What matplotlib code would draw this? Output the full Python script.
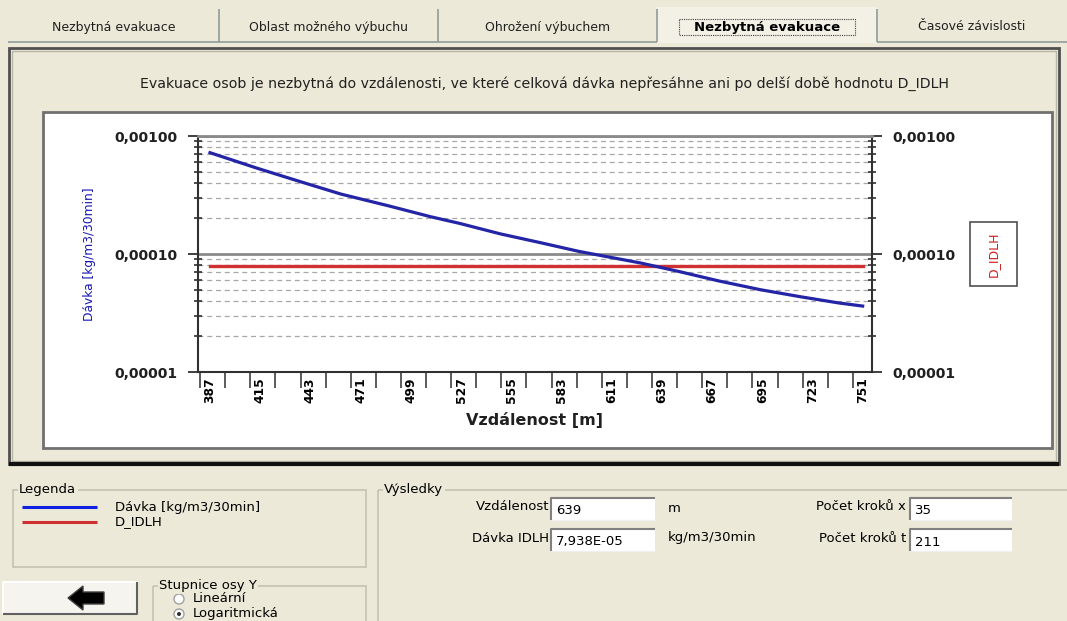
import matplotlib
matplotlib.use("Agg")
import matplotlib.pyplot as plt
from matplotlib.patches import Rectangle, Circle, Polygon
from matplotlib.ticker import LogLocator, FuncFormatter, FixedLocator, NullFormatter

plt.rcParams['font.family'] = ['DejaVu Sans']

# data
distance = [387, 413, 437, 460, 487, 510, 526, 549, 571, 593, 627, 649, 671, 694, 716, 738, 751]
dose = [7.22e-4, 5.35e-4, 4.12e-4, 3.22e-4, 2.55e-4, 2.07e-4, 1.82e-4, 1.48e-4, 1.25e-4,
        1.05e-4, 8.4e-5, 7.08e-5, 5.9e-5, 4.98e-5, 4.35e-5, 3.84e-5, 3.62e-5]
idlh = 7.938e-5
x_labels = list(range(387, 752, 28))
x_minor = [381.5 + 14 * k for k in range(27)]

tabs = ["Nezbytná evakuace", "Oblast možného výbuchu", "Ohrožení výbuchem",
        "Nezbytná evakuace", "Časové závislosti"]
active_tab = 3
res_distance = "639"
res_idlh = "7,938E-05"
steps_x = "35"
steps_t = "211"

W, H = 1067, 621
BG = '#ECE9D8'
fig = plt.figure(figsize=(W / 100, H / 100), dpi=100, facecolor=BG)

# window furniture drawn in pixel coordinates
ui = fig.add_axes([0, 0, 1, 1])
ui.set_xlim(0, W)
ui.set_ylim(H, 0)
ui.axis('off')
ui.set_facecolor(BG)


def rect(x0, y0, x1, y1, **kw):
    ui.add_patch(Rectangle((x0, y0), x1 - x0, y1 - y0, **kw))


def line(xs, ys, **kw):
    ui.plot(xs, ys, solid_capstyle='butt', **kw)


def group(x0, y0, x1, y1, title):
    rect(x0, y0, x1, y1, fill=False, edgecolor='#c5c2b2', lw=1.2)
    ui.text(x0 + 6, y0, title, fontsize=9.5, va='center', ha='left',
            bbox=dict(facecolor=BG, edgecolor='none', pad=1))


def field(x0, y0, x1, y1, value):
    rect(x0, y0, x1, y1, facecolor='white', edgecolor='none')
    line([x0, x0, x1], [y1, y0, y0], color='#808080', lw=1.5)
    line([x0 + 1, x1], [y1, y1], color='#f0f0f0', lw=1)
    ui.text(x0 + 5, (y0 + y1) / 2 + 2, value, fontsize=9.5, va='center', ha='left')


# tabs
tab_edges = [8, 219, 438, 657, 877, 1067]
for i, name in enumerate(tabs):
    x0, x1 = tab_edges[i], tab_edges[i + 1]
    cx = (x0 + x1) / 2
    if i == active_tab:
        rect(x0, 7, x1, 43, facecolor='#F3F1E6', edgecolor='none')
        ui.text(cx, 27, name, fontsize=9.5, fontweight='bold', ha='center', va='center')
        rect(cx - 88, 19, cx + 88, 35, fill=False, edgecolor='#404040', lw=0.8, ls=(0, (1, 1)))
    else:
        line([x0, x1], [42, 42], color='#919B9C', lw=1.2)
        ui.text(cx, 27, name, fontsize=9, ha='center', va='center', color='#202020')
for xe in tab_edges[1:-1]:
    line([xe, xe], [9, 42], color='#919B9C', lw=1.2)

# main frame
rect(9, 48, 1059, 464, fill=False, edgecolor='#505050', lw=2)
rect(12, 51, 1056, 461, fill=False, edgecolor='#b8b5a6', lw=1)
line([9, 1059], [464, 464], color='#101010', lw=3)
rect(43, 112, 1052, 448, facecolor='white', edgecolor='#707070', lw=2)

ui.text(545, 84, "Evakuace osob je nezbytná do vzdálenosti, ve které celková dávka "
        "nepřesáhne ani po delší době hodnotu D_IDLH",
        fontsize=10.2, ha='center', va='center', color='#202020')

# right series title box
rect(970, 222, 1017, 286, facecolor='white', edgecolor='#505050', lw=1.2)
ui.text(993.5, 254, "D_IDLH", rotation=90, color='#cc2020', fontsize=9,
        ha='center', va='center')

ui.text(90, 254, "Dávka [kg/m3/30min]", rotation=90, color='#1818b0', fontsize=8.8,
        ha='center', va='center')

# bottom panels
group(13, 490, 366, 567, "Legenda")
line([22, 97], [507, 507], color='#1020e0', lw=2.2)
line([22, 97], [522, 522], color='#d03030', lw=2.2)
ui.text(115, 507, "Dávka [kg/m3/30min]", fontsize=9.5, va='center')
ui.text(115, 522, "D_IDLH", fontsize=9.5, va='center')

group(153, 586, 366, 640, "Stupnice osy Y")
ui.add_patch(Circle((179, 599), 5, facecolor='white', edgecolor='#a0a0a0', lw=1))
ui.add_patch(Circle((179, 614), 5, facecolor='white', edgecolor='#a0a0a0', lw=1))
ui.add_patch(Circle((179, 614), 2, facecolor='#303030', edgecolor='none'))
ui.text(193, 599, "Lineární", fontsize=9.5, va='center')
ui.text(193, 614, "Logaritmická", fontsize=9.5, va='center')

rect(3, 582, 137, 614, facecolor='#F5F4EF', edgecolor='none')
line([3, 3, 137], [614, 582, 582], color='#ffffff', lw=1.5)
line([3, 137, 137], [614, 614, 582], color='#606060', lw=1.5)
ui.add_patch(Polygon([[68, 598], [83, 586], [83, 592], [104, 592], [104, 604], [83, 604], [83, 610]],
                     closed=True, facecolor='black', edgecolor='#404040', lw=1))

group(378, 490, 1080, 660, "Výsledky")
ui.text(549, 507, "Vzdálenost", fontsize=9.5, ha='right', va='center')
field(551, 498, 655, 520, res_distance)
ui.text(668, 508, "m", fontsize=9.5, va='center')
ui.text(549, 538, "Dávka IDLH", fontsize=9.5, ha='right', va='center')
field(551, 529, 655, 551, res_idlh)
ui.text(668, 538, "kg/m3/30min", fontsize=9.5, va='center')
ui.text(906, 507, "Počet kroků x", fontsize=9.5, ha='right', va='center')
field(910, 498, 1012, 520, steps_x)
ui.text(906, 538, "Počet kroků t", fontsize=9.5, ha='right', va='center')
field(910, 529, 1012, 551, steps_t)

# the chart
ax = fig.add_axes([198 / W, 1 - 372 / H, 674 / W, 236 / H])
ax.set_facecolor('white')
ax.plot(distance, dose, color='#2424a6', lw=2.3, zorder=4)
ax.plot([distance[0], distance[-1]], [idlh, idlh], color='#d03030', lw=2.4, zorder=3)

ax.set_yscale('log')
ax.set_ylim(1e-5, 1e-3)
ax.set_xlim(380.3, 756.2)

ax.yaxis.set_major_locator(LogLocator(base=10))
ax.yaxis.set_minor_locator(LogLocator(base=10, subs=range(2, 10)))
ax.yaxis.set_minor_formatter(NullFormatter())
ax.yaxis.set_major_formatter(FuncFormatter(lambda v, _: f"{v:.5f}".replace('.', ',')))
ax.yaxis.grid(True, which='minor', color='#a8a8a8', lw=0.9, ls=(0, (4, 3)))
ax.yaxis.grid(True, which='major', color='#8a8a8a', lw=2)
ax.tick_params(axis='y', which='major', left=True, right=True, labelright=True,
               direction='out', length=7, width=1.3, color='#303030', pad=8, labelsize=10)
ax.tick_params(axis='y', which='minor', left=True, right=True,
               direction='inout', length=6, width=1.2, color='#303030')
for t in ax.get_yticklabels():
    t.set_fontweight('bold')
    t.set_color('#202020')

ax.xaxis.set_major_locator(FixedLocator(x_labels))
ax.xaxis.set_minor_locator(FixedLocator(x_minor))
ax.tick_params(axis='x', which='major', length=0, pad=4, labelsize=8.8, labelrotation=90)
ax.tick_params(axis='x', which='minor', length=11.5, width=1.2, color='#404040', direction='out')
for t in ax.get_xticklabels():
    t.set_fontweight('bold')
ax.set_xlabel("Vzdálenost [m]", fontsize=11.5, fontweight='bold', labelpad=6, color='#202020')

for side in ['left', 'right', 'bottom']:
    ax.spines[side].set_color('#303030')
    ax.spines[side].set_linewidth(1.5)
ax.spines['top'].set_color('#8a8a8a')
ax.spines['top'].set_linewidth(2)

fig.savefig("out.png", dpi=100, facecolor=BG)
